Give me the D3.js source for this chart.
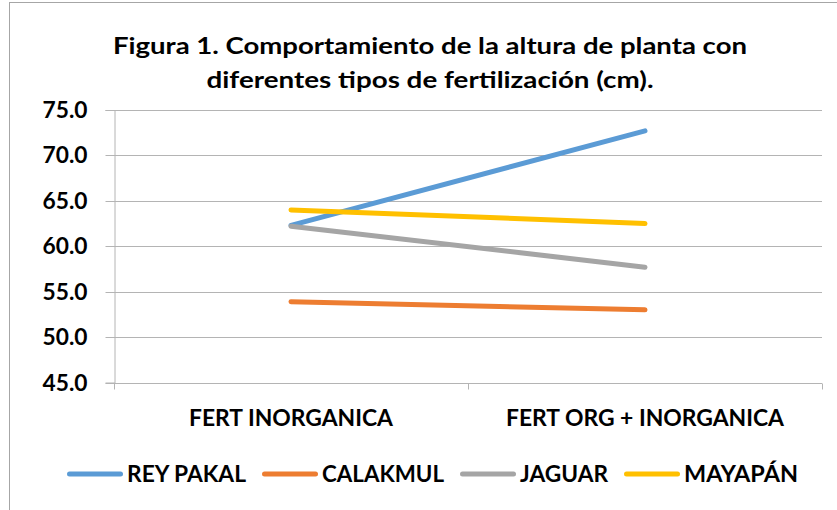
<!DOCTYPE html>
<html>
<head>
<meta charset="utf-8">
<script src="https://cdn.jsdelivr.net/npm/d3@7/dist/d3.min.js"></script>
<style>
  html, body { margin: 0; padding: 0; background: #fff; }
  svg { display: block; }
  text { font-family: Lato, "Open Sans", sans-serif; font-weight: 700; fill: #000; }
</style>
</head>
<body>
<script>
// ---- data ----
const categories = ["FERT INORGANICA", "FERT ORG + INORGANICA"];
const seriesNames = ["REY PAKAL", "CALAKMUL", "JAGUAR", "MAYAPÁN"];
const reyPakal = [62.3, 72.7];
const calakmul = [53.9, 53.0];
const jaguar   = [62.2, 57.7];
const mayapan  = [64.0, 62.5];
const yTicks = [45, 50, 55, 60, 65, 70, 75];
const titleLines = ["Figura 1. Comportamiento de la altura de planta con",
                    "diferentes tipos de fertilización (cm)."];
const colors = ["#5B9BD5", "#ED7D31", "#A5A5A5", "#FFC000"];

const series = seriesNames.map((name, i) => ({
  name, color: colors[i], values: [reyPakal, calakmul, jaguar, mayapan][i]
}));

// ---- layout ----
const W = 837, H = 510;
const plot = { left: 114, right: 822, top: 110, bottom: 382.5 };
const gridColor = "#B4B4B4";

const svg = d3.select("body").append("svg").attr("width", W).attr("height", H);

// outer frame
svg.append("rect").attr("x", 9.5).attr("y", 2.5).attr("width", W + 10).attr("height", H + 10)
  .attr("fill", "none").attr("stroke", "#A6A6A6").attr("stroke-width", 1);

// title
const titleWidths = [634, 447];
const titleBase = [54, 88];
titleLines.forEach((t, i) => {
  svg.append("text").attr("x", 430).attr("y", titleBase[i]).attr("text-anchor", "middle")
    .attr("font-size", 22).attr("textLength", titleWidths[i]).attr("lengthAdjust", "spacingAndGlyphs")
    .text(t);
});

// scales
const y = d3.scaleLinear().domain([45, 75]).range([plot.bottom, plot.top]);
const x = d3.scaleBand().domain(categories).range([plot.left, plot.right]);
const xc = d => x(d) + x.bandwidth() / 2;

// gridlines
svg.append("g").selectAll("line").data(yTicks.filter(v => v !== 45)).join("line")
  .attr("x1", plot.left).attr("x2", plot.right)
  .attr("y1", d => Math.round(y(d)) + 0.5).attr("y2", d => Math.round(y(d)) + 0.5)
  .attr("stroke", gridColor).attr("stroke-width", 1);

// y axis
const yAxis = svg.append("g").attr("transform", `translate(${plot.left + 0.5},0)`)
  .call(d3.axisLeft(y).tickValues(yTicks).tickSize(9).tickPadding(0).tickFormat(d3.format(".1f")));
yAxis.select(".domain").attr("stroke", gridColor);
yAxis.selectAll(".tick line").attr("stroke", gridColor);
yAxis.selectAll(".tick").attr("transform", d => `translate(0,${Math.round(y(d)) + 0.5})`);
yAxis.selectAll(".tick text").attr("x", -27).attr("dy", "0.36em")
  .attr("font-size", 22).attr("fill", "#000").attr("textLength", 45)
  .attr("lengthAdjust", "spacingAndGlyphs")
  .style("font-family", "Lato, sans-serif").style("font-weight", 700);

// x axis
const xAxisG = svg.append("g").attr("transform", `translate(0,${Math.round(plot.bottom) + 0.5})`);
xAxisG.append("line").attr("x1", plot.left).attr("x2", plot.right).attr("stroke", gridColor);
const boundaries = categories.map(c => x(c)).concat([x(categories[categories.length - 1]) + x.bandwidth()]);
xAxisG.selectAll("line.b").data(boundaries).join("line").attr("class", "b")
  .attr("x1", d => Math.round(d) + 0.5).attr("x2", d => Math.round(d) + 0.5)
  .attr("y1", 0).attr("y2", 6).attr("stroke", gridColor);
const catWidths = [204, 278];
xAxisG.selectAll("text").data(categories).join("text")
  .attr("x", d => xc(d)).attr("y", 42.5).attr("text-anchor", "middle")
  .attr("font-size", 22).attr("textLength", (d, i) => catWidths[i]).attr("lengthAdjust", "spacingAndGlyphs")
  .text(d => d);

// lines
const line = d3.line().x((d, i) => xc(categories[i])).y(d => y(d));
svg.append("g").selectAll("path").data(series).join("path")
  .attr("d", d => line(d.values))
  .attr("fill", "none").attr("stroke", d => d.color).attr("stroke-width", 5)
  .attr("stroke-linecap", "round").attr("stroke-linejoin", "round");

// legend
const legTextW = [119, 122, 88, 114];
let lx = 67;
const ly = 474;
const leg = svg.append("g");
series.forEach((s, i) => {
  leg.append("line").attr("x1", lx + 2.5).attr("x2", lx + 53.5).attr("y1", ly).attr("y2", ly)
    .attr("stroke", s.color).attr("stroke-width", 5).attr("stroke-linecap", "round");
  leg.append("text").attr("x", lx + 60).attr("y", ly + 8).attr("font-size", 22)
    .attr("textLength", legTextW[i]).attr("lengthAdjust", "spacingAndGlyphs").text(s.name);
  lx += 56 + 4 + legTextW[i] + 16;
});
</script>
</body>
</html>
